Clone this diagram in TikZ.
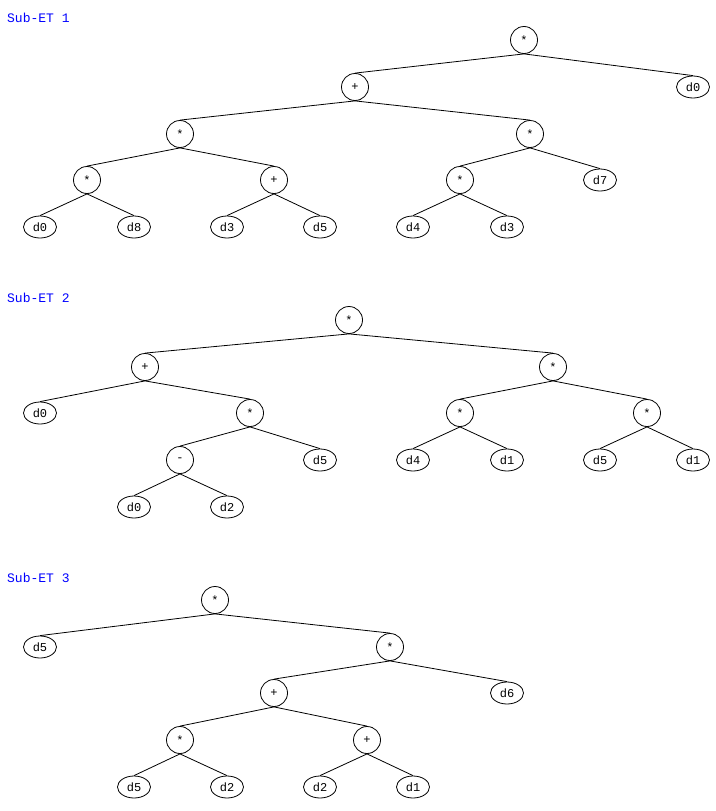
\documentclass[tikz,border=0pt]{standalone}
\usepackage{fontspec}
\setmonofont{Liberation Mono}
\usetikzlibrary{shapes.geometric}
\definecolor{lblue}{RGB}{0,0,255}
\begin{document}
\begin{tikzpicture}[x=1pt,y=-1pt,
  op/.style={circle,draw,line width=0.8pt,minimum size=27pt,inner sep=0pt,font=\ttfamily\fontsize{12}{12}\selectfont},
  leaf/.style={ellipse,draw,line width=0.8pt,minimum width=33pt,minimum height=22pt,inner sep=0pt,font=\ttfamily\fontsize{12}{12}\selectfont},
  title/.style={anchor=west,inner sep=0pt,text=lblue,font=\ttfamily\fontsize{13}{13}\selectfont},
  edge/.style={line width=0.8pt}]
\useasboundingbox (0,0) rectangle (715,811);
% ---------- Sub-ET 1
\node[title] (t1) at (7,18) {Sub-ET 1};
\node[op] (a) at (524,40) {*};
\node[op] (a1) at (355,87) {+};
\node[leaf] (a2) at (693,87) {d0};
\node[op] (a11) at (180,134) {*};
\node[op] (a12) at (530,134) {*};
\node[op] (a111) at (87,180) {*};
\node[op] (a112) at (274,180) {+};
\node[op] (a121) at (460,180) {*};
\node[leaf] (a122) at (600,180) {d7};
\node[leaf] (a1111) at (40,227) {d0};
\node[leaf] (a1112) at (134,227) {d8};
\node[leaf] (a1121) at (227,227) {d3};
\node[leaf] (a1122) at (320,227) {d5};
\node[leaf] (a1211) at (413,227) {d4};
\node[leaf] (a1212) at (507,227) {d3};
\foreach \p/\c in {a/a1,a/a2,a1/a11,a1/a12,a11/a111,a11/a112,a12/a121,a12/a122,a111/a1111,a111/a1112,a112/a1121,a112/a1122,a121/a1211,a121/a1212}
  \draw[edge] (\p.south) -- (\c.north);
% ---------- Sub-ET 2
\node[title] (t2) at (7,298) {Sub-ET 2};
\node[op] (b) at (349,320) {*};
\node[op] (b1) at (145,367) {+};
\node[op] (b2) at (553,367) {*};
\node[leaf] (b11) at (40,413) {d0};
\node[op] (b12) at (250,413) {*};
\node[op] (b21) at (460,413) {*};
\node[op] (b22) at (647,413) {*};
\node[op] (b121) at (180,460) {-};
\node[leaf] (b122) at (320,460) {d5};
\node[leaf] (b211) at (413,460) {d4};
\node[leaf] (b212) at (507,460) {d1};
\node[leaf] (b221) at (600,460) {d5};
\node[leaf] (b222) at (693,460) {d1};
\node[leaf] (b1211) at (134,507) {d0};
\node[leaf] (b1212) at (227,507) {d2};
\foreach \p/\c in {b/b1,b/b2,b1/b11,b1/b12,b2/b21,b2/b22,b12/b121,b12/b122,b21/b211,b21/b212,b22/b221,b22/b222,b121/b1211,b121/b1212}
  \draw[edge] (\p.south) -- (\c.north);
% ---------- Sub-ET 3
\node[title] (t3) at (7,578) {Sub-ET 3};
\node[op] (c) at (215,600) {*};
\node[leaf] (c1) at (40,647) {d5};
\node[op] (c2) at (390,647) {*};
\node[op] (c21) at (274,693) {+};
\node[leaf] (c22) at (507,693) {d6};
\node[op] (c211) at (180,740) {*};
\node[op] (c212) at (367,740) {+};
\node[leaf] (c2111) at (134,787) {d5};
\node[leaf] (c2112) at (227,787) {d2};
\node[leaf] (c2121) at (320,787) {d2};
\node[leaf] (c2122) at (413,787) {d1};
\foreach \p/\c in {c/c1,c/c2,c2/c21,c2/c22,c21/c211,c21/c212,c211/c2111,c211/c2112,c212/c2121,c212/c2122}
  \draw[edge] (\p.south) -- (\c.north);
\end{tikzpicture}
\end{document}
